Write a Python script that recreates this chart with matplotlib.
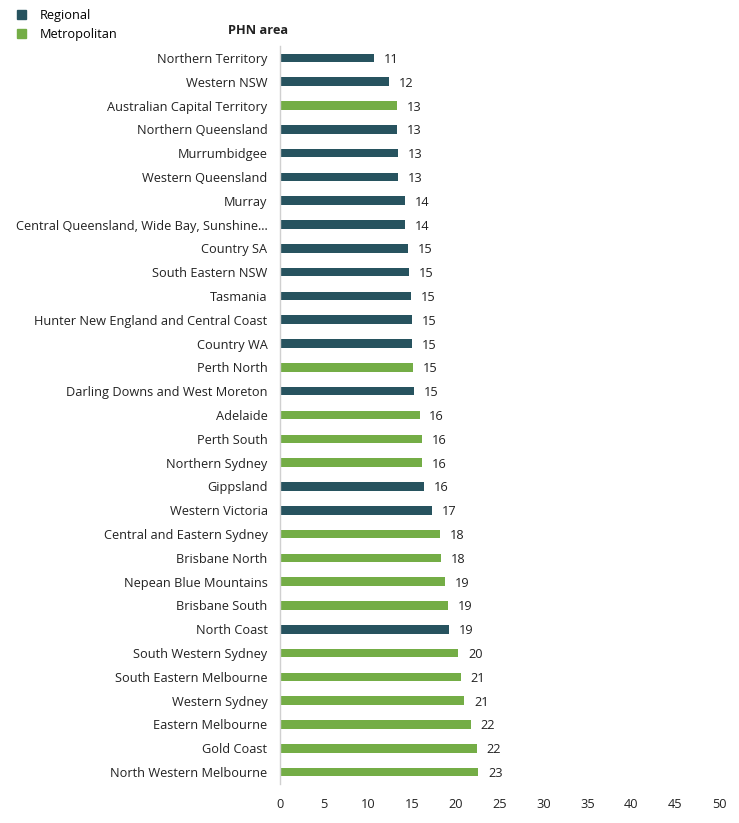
import matplotlib.pyplot as plt
from matplotlib.patches import Patch

plt.rcParams['font.family'] = ['Open Sans', 'DejaVu Sans']

areas = ['Northern Territory', 'Western NSW', 'Australian Capital Territory',
         'Northern Queensland', 'Murrumbidgee', 'Western Queensland', 'Murray',
         'Central Queensland, Wide Bay, Sunshine…', 'Country SA', 'South Eastern NSW',
         'Tasmania', 'Hunter New England and Central Coast', 'Country WA',
         'Perth North', 'Darling Downs and West Moreton', 'Adelaide', 'Perth South',
         'Northern Sydney', 'Gippsland', 'Western Victoria',
         'Central and Eastern Sydney', 'Brisbane North', 'Nepean Blue Mountains',
         'Brisbane South', 'North Coast', 'South Western Sydney',
         'South Eastern Melbourne', 'Western Sydney', 'Eastern Melbourne',
         'Gold Coast', 'North Western Melbourne']
values = [10.7, 12.4, 13.3, 13.3, 13.4, 13.4, 14.2, 14.2, 14.6, 14.7, 14.9,
          15.0, 15.0, 15.2, 15.3, 15.9, 16.2, 16.2, 16.4, 17.3, 18.2, 18.3,
          18.8, 19.1, 19.3, 20.3, 20.6, 21.0, 21.7, 22.4, 22.6]
area_type = ['R', 'R', 'M', 'R', 'R', 'R', 'R', 'R', 'R', 'R', 'R', 'R', 'R',
             'M', 'R', 'M', 'M', 'M', 'R', 'R', 'M', 'M', 'M', 'M', 'R', 'M',
             'M', 'M', 'M', 'M', 'M']

dark = '#27535f'
green = '#74ad46'
colors = [dark if t == 'R' else green for t in area_type]
fs = 9.2

fig = plt.figure(figsize=(7.39, 8.23), dpi=100)
ax = fig.add_axes([280 / 739, 1 - 784 / 823, 439 / 739, 738 / 823])

ypos = list(range(len(areas)))
ax.barh(ypos, values, height=0.36, color=colors)
for y, v in zip(ypos, values):
    ax.annotate(f'{round(v):.0f}', (v, y), xytext=(7, 0), textcoords='offset points',
                va='center_baseline', ha='left', fontsize=fs, color='#222222')

ax.set_yticks(ypos)
ax.set_yticklabels(areas, fontsize=fs, color='#222222')
ax.set_ylim(len(areas) - 0.5, -0.5)
ax.set_xlim(0, 50)
ax.set_xticks(range(0, 51, 5))
ax.tick_params(axis='x', length=0, pad=10, labelsize=fs, labelcolor='#222222')
ax.tick_params(axis='y', length=0, pad=9)
for s in ['top', 'right', 'bottom']:
    ax.spines[s].set_visible(False)
ax.spines['left'].set_color('#d0d0d0')
ax.spines['left'].set_linewidth(1)

fig.text(258 / 739, 1 - 30 / 823, 'PHN area', ha='center', va='center',
         fontsize=fs, fontweight='bold', color='#222222')

handles = [Patch(color=dark, label='Regional'), Patch(color=green, label='Metropolitan')]
fig.legend(handles=handles, loc='upper left', bbox_to_anchor=(0.007, 1.003),
           frameon=False, fontsize=fs, handlelength=0.7, handleheight=0.7,
           handletextpad=1.1, labelspacing=0.45)

fig.savefig('out.png', dpi=100)
